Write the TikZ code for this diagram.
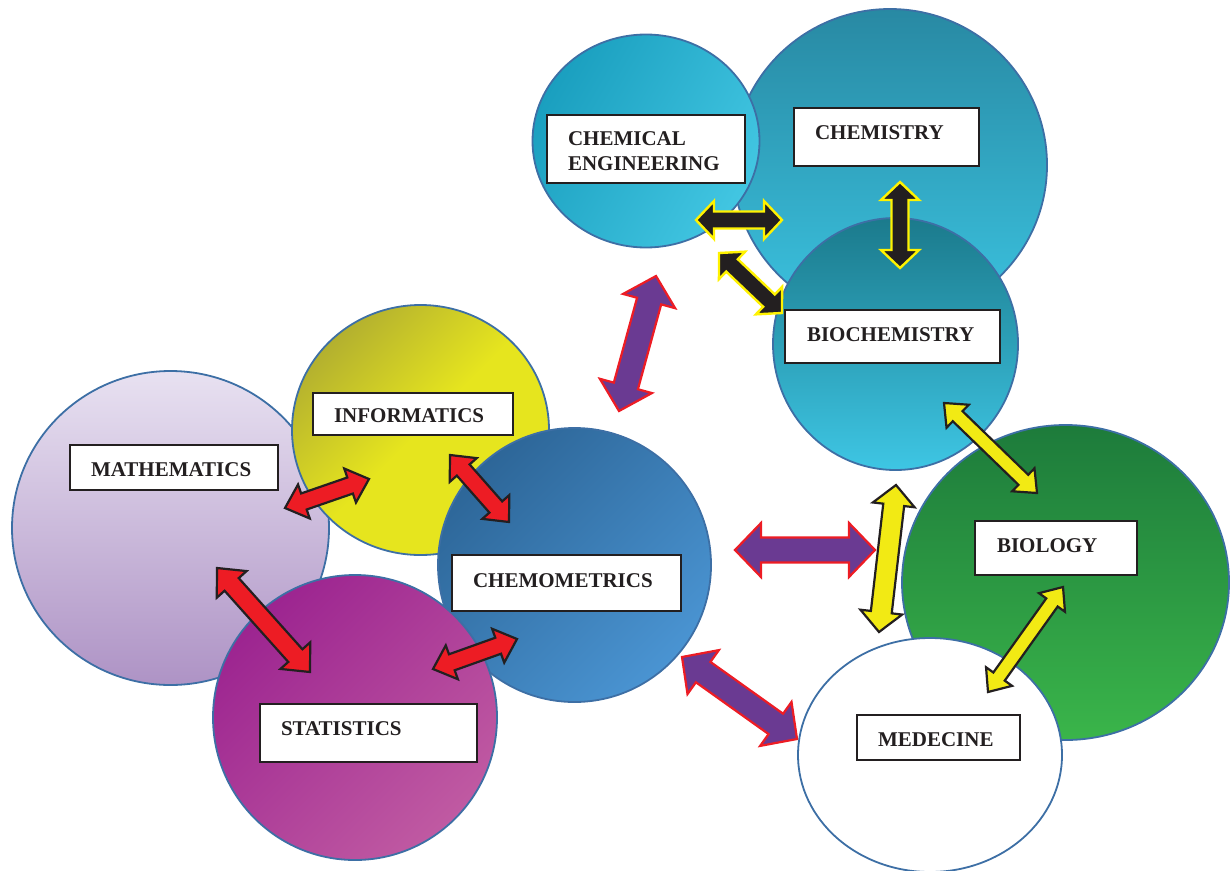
\documentclass[tikz,border=0pt]{standalone}
\usepackage{fontspec}
\setmainfont{Liberation Serif}
\usetikzlibrary{calc,shapes.geometric}

\definecolor{ink}{HTML}{231F20}
\definecolor{rim}{HTML}{3D6FA5}
\definecolor{ared}{HTML}{ED1C24}
\definecolor{apurple}{HTML}{6A3A92}
\definecolor{ayellow}{HTML}{F2EA14}
\definecolor{ylw}{HTML}{FFF200}
\definecolor{mathA}{HTML}{E8E1F1}
\definecolor{mathB}{HTML}{AE93C5}
\definecolor{infoA}{HTML}{B3B02F}
\definecolor{infoB}{HTML}{E6E51E}
\definecolor{cmA}{HTML}{2D6698}
\definecolor{cmB}{HTML}{4A94D2}
\definecolor{statA}{HTML}{9C2490}
\definecolor{statB}{HTML}{C05AA2}
\definecolor{chA}{HTML}{2889A3}
\definecolor{chB}{HTML}{3BC3E0}
\definecolor{ceA}{HTML}{1A9FBF}
\definecolor{ceB}{HTML}{42C6E2}
\definecolor{bcA}{HTML}{1B7A8C}
\definecolor{bcB}{HTML}{3EC6E4}
\definecolor{bioA}{HTML}{1D7B3B}
\definecolor{bioB}{HTML}{3AB54A}

% double block arrow between two points
\newcommand\fatarrow[3][]{%
  \draw[#1] (#2)
    -- ($(#2)!\ahl!(#3)!\ahw!90:(#3)$)
    -- ($(#2)!\ahl!(#3)!\asw!90:(#3)$)
    -- ($(#3)!\ahl!(#2)!\asw!-90:(#2)$)
    -- ($(#3)!\ahl!(#2)!\ahw!-90:(#2)$)
    -- (#3)
    -- ($(#3)!\ahl!(#2)!\ahw!90:(#2)$)
    -- ($(#3)!\ahl!(#2)!\asw!90:(#2)$)
    -- ($(#2)!\ahl!(#3)!\asw!-90:(#3)$)
    -- ($(#2)!\ahl!(#3)!\ahw!-90:(#3)$)
    -- cycle;}

\begin{document}
\begin{tikzpicture}[
    x=1pt, y=-1pt,
    disc/.style={ellipse, draw=rim, line width=1.8pt, inner sep=0pt},
    box/.style={draw=ink, line width=2pt, fill=white, text=ink,
      font=\bfseries\fontsize{21}{25}\selectfont, anchor=north west,
      inner xsep=21pt, inner ysep=0pt, align=left},
    fat/.style n args={3}{/utils/exec={\def\ahl{#1}\def\ahw{#2}\def\asw{#3}}},
    redarrow/.style={fill=ared, draw=ink, line width=2.2pt, fat={20pt}{18pt}{8.5pt}},
    purplearrow/.style={fill=apurple, draw=ared, line width=2.2pt, fat={26pt}{27pt}{12.5pt}},
    yellowarrow/.style={fill=ayellow, draw=ink, line width=2.2pt, fat={19pt}{16pt}{7pt}},
    blackarrow/.style={fill=ink, draw=ylw, line width=2.4pt, fat={18pt}{19pt}{8.5pt}}
  ]
    \useasboundingbox (0,0) rectangle (1230,870);

    % circles
    \node[disc, minimum width=317pt, minimum height=314pt, top color=mathA, bottom color=mathB] (math) at (170.5,528) {};
    \node[disc, minimum width=257pt, minimum height=250pt, top color=infoA, bottom color=infoB, middle color=infoB, shading angle=45] (info) at (420.5,430) {};
    \node[disc, minimum width=273pt, minimum height=274pt, top color=cmA, bottom color=cmB, shading angle=45] (chemo) at (574.5,565) {};
    \node[disc, minimum width=284pt, minimum height=285pt, top color=statA, bottom color=statB, shading angle=45] (stat) at (355,717.5) {};
    \node[disc, minimum width=314pt, minimum height=312pt, top color=chA, bottom color=chB] (chem) at (890,165) {};
    \node[disc, minimum width=227pt, minimum height=213pt, top color=ceA, bottom color=ceB, shading angle=60] (cheng) at (646,141) {};
    \node[disc, minimum width=245pt, minimum height=252pt, top color=bcA, bottom color=bcB] (biochem) at (895.5,344) {};
    \node[disc, minimum width=327pt, minimum height=315pt, top color=bioA, bottom color=bioB] (bio) at (1065.5,582.5) {};
    \node[disc, minimum width=264pt, minimum height=234pt, fill=white] (med) at (930,755) {};

    % arrow ends
    \coordinate (ce-a) at (696,220);   \coordinate (ce-b) at (782,220);
    \coordinate (cb-a) at (900,182);   \coordinate (cb-b) at (900,268);
    \coordinate (eb-a) at (719,253);   \coordinate (eb-b) at (782,313);
    \coordinate (ec-a) at (656,276);   \coordinate (ec-b) at (619,411);
    \coordinate (mb-a) at (735,550);   \coordinate (mb-b) at (875,550);
    \coordinate (yv-a) at (896,485);   \coordinate (yv-b) at (879,632);
    \coordinate (bb-a) at (944,403);   \coordinate (bb-b) at (1037,493);
    \coordinate (bm-a) at (1063,587);  \coordinate (bm-b) at (988,692);
    \coordinate (md-a) at (682,657);   \coordinate (md-b) at (797,739);
    \coordinate (mi-a) at (285,508);   \coordinate (mi-b) at (369,479);
    \coordinate (ic-a) at (450,455);   \coordinate (ic-b) at (509,522);
    \coordinate (sc-a) at (433,669);   \coordinate (sc-b) at (517,639);
    \coordinate (ms-a) at (217,568);   \coordinate (ms-b) at (310,672);

    \fatarrow[blackarrow]{ce-a}{ce-b}
    \fatarrow[blackarrow]{cb-a}{cb-b}
    \fatarrow[blackarrow]{eb-a}{eb-b}
    \fatarrow[purplearrow]{ec-a}{ec-b}
    \fatarrow[purplearrow]{mb-a}{mb-b}
    \fatarrow[purplearrow]{md-a}{md-b}
    \fatarrow[yellowarrow, fat={20pt}{21pt}{10.5pt}]{yv-a}{yv-b}
    \fatarrow[yellowarrow]{bb-a}{bb-b}
    \fatarrow[yellowarrow]{bm-a}{bm-b}
    \fatarrow[redarrow]{mi-a}{mi-b}
    \fatarrow[redarrow]{ic-a}{ic-b}
    \fatarrow[redarrow]{sc-a}{sc-b}
    \fatarrow[redarrow, fat={22pt}{20pt}{9.5pt}]{ms-a}{ms-b}

    % labels
    \node[box, text width=156pt, text height=30pt, text depth=38pt] (l-cheng) at (546,114) {CHEMICAL\\ENGINEERING};
    \node[box, text width=143pt, text height=31pt, text depth=27pt] (l-chem) at (793,107) {CHEMISTRY};
    \node[box, inner xsep=22pt, text width=171pt, text height=31pt, text depth=22pt] (l-biochem) at (784,309) {BIOCHEMISTRY};
    \node[box, inner xsep=22pt, text width=118pt, text height=31pt, text depth=23pt] (l-bio) at (974,520) {BIOLOGY};
    \node[box, text width=121pt, text height=31pt, text depth=14pt] (l-med) at (856,714) {MEDECINE};
    \node[box, text width=187pt, text height=32pt, text depth=24pt] (l-chemo) at (451,554) {CHEMOMETRICS};
    \node[box, text width=175pt, text height=31pt, text depth=27pt] (l-stat) at (259,703) {STATISTICS};
    \node[box, text width=166pt, text height=31pt, text depth=14pt] (l-math) at (69,444) {MATHEMATICS};
    \node[box, text width=158pt, text height=29pt, text depth=13pt] (l-info) at (312,392) {INFORMATICS};
\end{tikzpicture}
\end{document}
